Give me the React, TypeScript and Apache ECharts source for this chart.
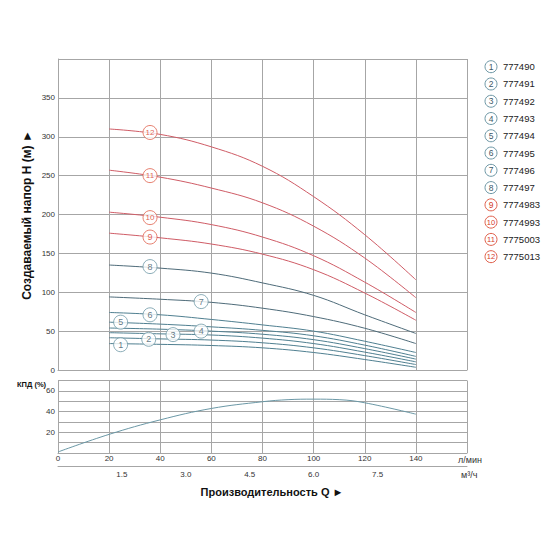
import React, { useEffect, useRef } from "react";
import * as echarts from "echarts";

// Flow points (l/min) for the head curves
const Q = [20, 40, 60, 80, 100, 120, 140];
// Head (m) for each pump model
const H1 = [34, 33, 31.5, 28.5, 22.5, 13.5, 3.5];
const H2 = [41.5, 40, 38.5, 35, 28.5, 18.5, 7];
const H3 = [48, 46.5, 45, 41, 34, 23, 10.5];
const H4 = [54, 52.5, 50, 46, 39, 27.5, 14];
const H5 = [61.5, 59, 55.5, 51, 44, 32, 17.5];
const H6 = [74, 71, 65, 58, 50, 37, 22.5];
const H7 = [94, 91, 87, 79.5, 68.7, 53.7, 34];
const H8 = [135, 131, 124.6, 112, 96, 71, 47];
const H9 = [176, 170, 162, 149, 129, 99, 64];
const H10 = [203, 196.5, 187, 171, 147, 113, 74];
const H11 = [257, 248, 234, 215, 185, 144, 93];
const H12 = [310, 303, 287, 262, 223, 174, 116];

// Efficiency curve
const EFF_Q = [0, 20, 40, 60, 80, 90, 100, 110, 120, 140];
const EFF = [1, 18, 32, 43, 49.5, 51.5, 52, 51.5, 48.5, 37.5];

// Curve number labels (position on the curve)
const LABEL_Q = [24.5, 35.5, 45, 56, 24.5, 36, 56, 36, 36, 36, 36, 36];
const LABEL_H = [32.5, 39.5, 45.5, 50, 61.5, 71, 88, 133, 171, 196, 250, 305.5];

// Legend model codes
const CODES = [
  "777490", "777491", "777492", "777493", "777494", "777495",
  "777496", "777497", "7774983", "7774993", "7775003", "7775013",
];

const FONT = "'Liberation Sans', Arial, sans-serif";

export default function App() {
  const ref = useRef<HTMLDivElement>(null);
  useEffect(() => {
    if (!ref.current) return;
    const chart = echarts.init(ref.current, undefined, { renderer: "svg" });
    const curves = [H1, H2, H3, H4, H5, H6, H7, H8, H9, H10, H11, H12];
    const isRed = (i: number) => i >= 8;
    const lineColor = (i: number) => (isRed(i) ? "#cf5c66" : i >= 6 ? "#4e6b79" : "#4f7f90");
    const ringColor = (i: number) => (isRed(i) ? "#e0604c" : "#6e98a6");
    const numColor = (i: number) => (isRed(i) ? "#d43a2a" : "#3d5866");
    const gridColor = "#a6a6a6";

    const lineSeries = curves.map((h, i) => ({
      type: "line",
      xAxisIndex: 0,
      yAxisIndex: 0,
      smooth: 0.4,
      symbol: "none",
      silent: true,
      lineStyle: { width: 1, color: lineColor(i) },
      data: Q.map((q, k) => [q, h[k]]),
      z: 3,
    }));

    const labelSeries = {
      type: "scatter",
      xAxisIndex: 0,
      yAxisIndex: 0,
      symbol: "circle",
      symbolSize: 14,
      z: 10,
      data: LABEL_Q.map((q, i) => ({
        value: [q, LABEL_H[i]],
        name: String(i + 1),
        itemStyle: { color: "#ffffff", borderColor: ringColor(i), borderWidth: 1 },
        label: {
          show: true,
          position: "inside",
          formatter: String(i + 1),
          color: numColor(i),
          fontSize: i >= 9 ? 8 : 9,
          fontFamily: FONT,
        },
      })),
    };

    const effSeries = {
      type: "line",
      xAxisIndex: 1,
      yAxisIndex: 1,
      smooth: 0.4,
      symbol: "none",
      lineStyle: { width: 1, color: "#6b98a6" },
      data: EFF_Q.map((q, k) => [q, EFF[k]]),
    };

    const legend: any[] = [];
    CODES.forEach((code, i) => {
      const y = 66.7 + i * 17.27;
      legend.push({
        type: "circle",
        shape: { cx: 491, cy: y, r: 6 },
        style: { fill: "#ffffff", stroke: ringColor(i), lineWidth: 1 },
      });
      legend.push({
        type: "text",
        x: 491,
        y: y,
        style: {
          text: String(i + 1),
          fill: numColor(i),
          fontSize: i >= 9 ? 7.5 : 8.5,
          fontFamily: FONT,
          textAlign: "center",
          textVerticalAlign: "middle",
        },
      });
      legend.push({
        type: "text",
        x: 503,
        y: y,
        style: {
          text: code,
          fill: "#222222",
          fontSize: 9.5,
          fontFamily: FONT,
          textAlign: "left",
          textVerticalAlign: "middle",
        },
      });
    });

    const option: any = {
      animation: false,
      backgroundColor: "#ffffff",
      textStyle: { fontFamily: FONT },
      grid: [
        { left: 58, top: 59, width: 409, height: 311 },
        { left: 58, top: 380.5, width: 409, height: 72.5 },
      ],
      xAxis: [
        {
          type: "value",
          gridIndex: 0,
          min: 0,
          max: 160,
          interval: 20,
          axisLine: { show: true, lineStyle: { color: gridColor } },
          axisTick: { show: false },
          axisLabel: { show: false },
          splitLine: { show: true, lineStyle: { color: gridColor, width: 1 } },
        },
        {
          type: "value",
          gridIndex: 1,
          min: 0,
          max: 160,
          interval: 20,
          axisLine: { show: true, lineStyle: { color: gridColor } },
          axisTick: { show: false },
          axisLabel: {
            fontSize: 8,
            color: "#333",
            margin: 1,
            formatter: (v: number) => (v >= 160 ? "" : String(v)),
          },
          splitLine: { show: true, lineStyle: { color: gridColor, width: 1 } },
        },
        {
          type: "value",
          gridIndex: 1,
          position: "bottom",
          offset: 13,
          min: 0,
          max: 9.6,
          interval: 1.5,
          axisLine: { show: true, lineStyle: { color: gridColor } },
          axisTick: { show: false },
          showMaxLabel: false,
          axisLabel: {
            fontSize: 8,
            color: "#333",
            margin: 4,
            formatter: (v: number) => (v === 0 || v >= 9 ? "" : v.toFixed(1)),
          },
          splitLine: { show: false },
        },
      ],
      yAxis: [
        {
          type: "value",
          gridIndex: 0,
          min: 0,
          max: 400,
          interval: 50,
          axisLine: { show: true, lineStyle: { color: gridColor } },
          axisTick: { show: false },
          axisLabel: {
            fontSize: 8,
            color: "#333",
            margin: 3,
            formatter: (v: number) => (v >= 400 ? "" : String(v)),
          },
          splitLine: { show: true, lineStyle: { color: gridColor, width: 1 } },
        },
        {
          type: "value",
          gridIndex: 1,
          min: 0,
          max: 70,
          interval: 10,
          axisLine: { show: true, lineStyle: { color: gridColor } },
          axisTick: { show: false },
          axisLabel: {
            fontSize: 8,
            color: "#333",
            margin: 3,
            formatter: (v: number) => (v === 20 || v === 40 || v === 60 ? String(v) : ""),
          },
          splitLine: { show: true, lineStyle: { color: gridColor, width: 1 } },
        },
      ],
      series: [...lineSeries, labelSeries, effSeries],
      graphic: [
        {
          type: "text",
          x: 27,
          y: 215,
          rotation: Math.PI / 2,
          style: {
            text: "Создаваемый напор H (м) ►",
            fill: "#111",
            fontSize: 12,
            fontWeight: "bold",
            fontFamily: FONT,
            textAlign: "center",
            textVerticalAlign: "middle",
          },
        },
        {
          type: "text",
          x: 17,
          y: 384,
          style: {
            text: "КПД (%)",
            fill: "#111",
            fontSize: 7.5,
            fontWeight: "bold",
            fontFamily: FONT,
            textAlign: "left",
            textVerticalAlign: "middle",
          },
        },
        {
          type: "text",
          x: 458,
          y: 460,
          style: {
            text: "л/мин",
            fill: "#333",
            fontSize: 9,
            fontFamily: FONT,
            textAlign: "left",
            textVerticalAlign: "middle",
          },
        },
        {
          type: "text",
          x: 461,
          y: 475,
          style: {
            text: "м³/ч",
            fill: "#333",
            fontSize: 9,
            fontFamily: FONT,
            textAlign: "left",
            textVerticalAlign: "middle",
          },
        },
        {
          type: "text",
          x: 272,
          y: 492,
          style: {
            text: "Производительность Q ►",
            fill: "#111",
            fontSize: 11,
            fontWeight: "bold",
            fontFamily: FONT,
            textAlign: "center",
            textVerticalAlign: "middle",
          },
        },
        ...legend,
      ],
    };
    chart.setOption(option);
    return () => chart.dispose();
  }, []);
  return (
    <div
      ref={ref}
      style={{ position: "fixed", left: 0, top: 0, width: 560, height: 560, background: "#fff" }}
    />
  );
}
